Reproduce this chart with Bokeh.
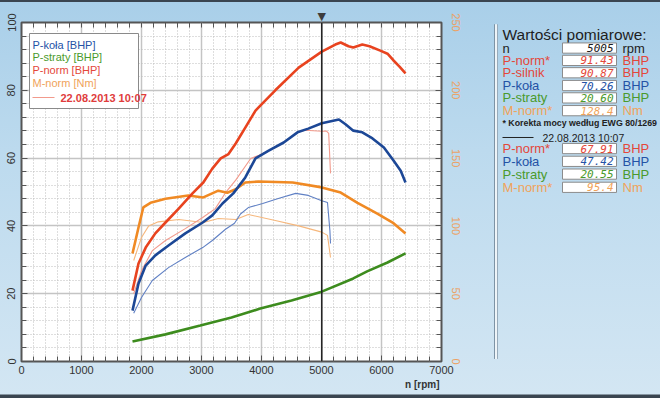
from bokeh.plotting import figure
from bokeh.models import (Range1d, LinearAxis, SingleIntervalTicker, FixedTicker, Span,
                          ColumnDataSource, Grid, Title)
from bokeh.layouts import row
from bokeh.embed import file_html
from bokeh.resources import INLINE
from bokeh.core.properties import value

# ---------------- data ----------------
cursor_rpm = 5005

p_norm_rpm = [1850, 1950, 2070, 2230, 2400, 2620, 2850, 3030, 3180, 3320, 3450, 3570, 3730, 3900,
              3980, 4230, 4620, 5005, 5230, 5320, 5450, 5530, 5680, 5800, 5980, 6100, 6200, 6300, 6400]
p_norm = [20.9, 28.9, 33.6, 37.8, 41.0, 45.1, 49.6, 52.8, 56.9, 59.9, 61.2, 64.3, 69.0, 74.0,
          75.5, 80.0, 86.7, 91.4, 93.5, 94.1, 93.0, 92.6, 93.5, 93.0, 91.7, 90.8, 88.8, 87.0, 85.0]

p_kola_rpm = [1850, 1950, 2070, 2230, 2450, 2730, 3020, 3180, 3350, 3530, 3730, 3900, 4120, 4370,
              4600, 4780, 5005, 5290, 5400, 5530, 5680, 5850, 6040, 6200, 6320, 6400]
p_kola = [15.0, 23.0, 28.3, 31.3, 34.2, 37.8, 41.0, 43.1, 46.6, 49.6, 54.3, 59.9, 62.2, 64.6,
          67.6, 68.7, 70.3, 71.4, 70.0, 68.1, 67.6, 65.8, 63.1, 59.3, 56.3, 52.8]

p_straty_rpm = [1850, 2400, 2980, 3500, 3980, 4500, 5005, 5530, 5760, 6100, 6400]
p_straty = [5.9, 8.0, 10.6, 13.0, 15.6, 18.0, 20.6, 24.5, 26.6, 29.2, 31.9]

m_norm_rpm = [1850, 1950, 2030, 2150, 2400, 2780, 3030, 3280, 3430, 3570, 3730, 3950, 4520, 5005,
              5320, 5600, 5930, 6200, 6400]
m_norm = [79.7, 98.8, 113.6, 117.0, 120.0, 122.4, 121.0, 126.0, 124.5, 127.0, 132.0, 132.7, 132.0,
          128.4, 124.6, 117.0, 109.0, 102.0, 94.4]

# comparison run 22.08.2013 10:07
cmp_p_norm_rpm = [1870, 2000, 2180, 2400, 2730, 3020, 3230, 3400, 3570, 3820, 3950, 4120, 4370,
                  4600, 4730, 5005, 5080, 5120, 5150]
cmp_p_norm = [20.0, 26.8, 32.7, 35.7, 39.2, 42.5, 45.1, 49.8, 53.5, 59.9, 60.8, 62.2, 64.6,
              67.6, 68.2, 67.9, 68.0, 67.3, 55.5]

cmp_p_kola_rpm = [1870, 2000, 2180, 2450, 2730, 3020, 3180, 3400, 3550, 3650, 3780, 4020, 4280,
                  4570, 4780, 5005, 5100, 5140, 5150]
cmp_p_kola = [14.2, 18.9, 23.9, 27.7, 30.7, 33.6, 35.7, 39.0, 40.8, 43.5, 45.4, 46.6, 48.1,
              49.6, 49.0, 47.4, 46.9, 38.6, 34.8]

cmp_m_norm_rpm = [1870, 2000, 2120, 2280, 2620, 3030, 3280, 3570, 3780, 4230, 4620, 5005, 5100, 5150]
cmp_m_norm = [74.5, 91.5, 100.0, 103.0, 104.7, 102.5, 105.5, 104.7, 108.4, 104.0, 100.0, 95.4, 93.0, 76.7]

legend_texts = ["P-koła [BHP]", "P-straty [BHP]", "P-norm [BHP]", "M-norm [Nm]"]
cmp_label = "22.08.2013 10:07"
x_title = "n [rpm]"

panel_title = "Wartości pomiarowe:"
panel1_labels = ["n", "P-norm*", "P-silnik", "P-koła", "P-straty", "M-norm*"]
panel1_values = ["5005", "91.43", "90.87", "70.26", "20.60", "128.4"]
panel1_units = ["rpm", "BHP", "BHP", "BHP", "BHP", "Nm"]
panel_note = "* Korekta  mocy według EWG 80/1269"
panel2_labels = ["P-norm*", "P-koła", "P-straty", "M-norm*"]
panel2_values = ["67.91", "47.42", "20.55", "95.4"]
panel2_units = ["BHP", "BHP", "BHP", "Nm"]

# ---------------- styles ----------------
W, H = 660, 398
RED, RED_T = "#e8431f", "#f29a8c"
BLUE, BLUE_T = "#1c4796", "#6080c4"
ORANGE, ORANGE_T = "#f08a24", "#f6b77c"
GREEN = "#3d8c1e"
L_RED, L_BLUE, L_GREEN, L_ORANGE = "#e4473a", "#2452a6", "#4a9a2c", "#f0a35a"
FONT = value("Liberation Sans")
BG = ("linear-gradient(to bottom, #3a4550 0px, #3a4550 2px, #a9cfe9 2px, #bcdaee 150px, "
      "#d3e6f3 394px, #3a4550 395px, #3a4550 398px)")

# ref-pixel -> data helpers (for placing the legend box)
def px2rpm(x):
    return (x - 21) / 0.06

def py2bhp(y):
    return (361 - y) / 3.39

MAIN_W = 490
p = figure(width=MAIN_W, height=H, x_range=Range1d(0, 7000), y_range=Range1d(0, 100),
           output_backend="svg", toolbar_location=None, x_axis_type=None, y_axis_type=None,
           min_border_left=21, min_border_right=MAIN_W - 21 - 420, min_border_top=22,
           min_border_bottom=H - 22 - 339)
p.extra_y_ranges = {"nm": Range1d(0, 250)}
p.background_fill_color = "white"
p.border_fill_color = None
p.styles = {"background": BG}
p.outline_line_color = "#555555"
p.outline_line_width = 2

xt = SingleIntervalTicker(interval=1000, num_minor_ticks=5)
yt = SingleIntervalTicker(interval=20, num_minor_ticks=5)
nt = SingleIntervalTicker(interval=50, num_minor_ticks=5)

def style_axis(ax, color="#333333"):
    ax.axis_line_color = None
    ax.major_tick_in = 6
    ax.major_tick_out = 0
    ax.minor_tick_in = 5
    ax.minor_tick_out = 0
    ax.major_tick_line_color = "#555555"
    ax.minor_tick_line_color = "#555555"
    ax.major_label_text_font = "Liberation Sans"
    ax.major_label_text_font_size = "11px"
    ax.major_label_text_color = color

xb = LinearAxis(ticker=xt)
style_axis(xb)
xb.major_label_standoff = 4
p.add_layout(xb, "below")

# top axis: inner minor ticks + cursor marker
xa = LinearAxis(ticker=FixedTicker(ticks=[cursor_rpm], minor_ticks=list(range(0, 7001, 200))),
                major_label_overrides={cursor_rpm: "▼"})
style_axis(xa, "#3c3c3c")
xa.major_tick_in = 0
xa.major_label_standoff = 0
xa.major_label_text_font = "DejaVu Sans"
xa.major_label_text_font_size = "11px"
p.add_layout(xa, "above")

yl = LinearAxis(ticker=yt)
style_axis(yl)
yl.major_label_orientation = "vertical"
yl.major_label_standoff = 6
p.add_layout(yl, "left")

yr = LinearAxis(ticker=nt, y_range_name="nm")
style_axis(yr, "#eca265")
yr.major_label_orientation = "vertical"
yr.major_label_standoff = 10
p.add_layout(yr, "right")

p.add_layout(Title(text=x_title, align="right", text_font="Liberation Sans",
                   text_font_size="10px", text_font_style="bold", text_color="#333333",
                   standoff=0, offset=2), "below")

gx = Grid(dimension=0, ticker=xt, grid_line_color="#c4c4c4", grid_line_width=1.5,
          minor_grid_line_color="#bdbdbd", minor_grid_line_dash="1 2")
gy = Grid(dimension=1, ticker=yt, grid_line_color="#c4c4c4", grid_line_width=1.5,
          minor_grid_line_color="#bdbdbd", minor_grid_line_dash="1 2")
p.add_layout(gx)
p.add_layout(gy)

# thin comparison curves
p.line(cmp_m_norm_rpm, cmp_m_norm, y_range_name="nm", line_color=ORANGE_T, line_width=1.1)
p.line(cmp_p_kola_rpm, cmp_p_kola, line_color=BLUE_T, line_width=1.1)
p.line(cmp_p_norm_rpm, cmp_p_norm, line_color=RED_T, line_width=1.1)
# thick current curves
p.line(p_straty_rpm, p_straty, line_color=GREEN, line_width=2.6)
p.line(m_norm_rpm, m_norm, y_range_name="nm", line_color=ORANGE, line_width=2.6)
p.line(p_kola_rpm, p_kola, line_color=BLUE, line_width=2.6)
p.line(p_norm_rpm, p_norm, line_color=RED, line_width=2.6)

p.add_layout(Span(location=cursor_rpm, dimension="height", line_color="#1e1e1e", line_width=1.5))

# legend box
p.quad(left=[px2rpm(29)], right=[px2rpm(138)], top=[py2bhp(33)], bottom=[py2bhp(108)],
       fill_color="white", line_color="#8a8a8a", line_width=1)
leg_src = ColumnDataSource(dict(x=[px2rpm(32)] * 4, y=[py2bhp(v) for v in (44, 56, 69, 82)],
                                t=legend_texts, c=[L_BLUE, L_GREEN, L_RED, L_ORANGE]))
p.text(x="x", y="y", text="t", text_color="c", source=leg_src, text_font=FONT,
       text_font_size="11px", text_baseline="middle")
p.line([px2rpm(32), px2rpm(54)], [py2bhp(97)] * 2, line_color=RED_T, line_width=1.2)
p.text(x=[px2rpm(60)], y=[py2bhp(97)], text=[cmp_label], text_color="#e03c3c",
       text_font=FONT, text_font_size="11px", text_font_style="bold", text_baseline="middle")

# ---------------- right panel ----------------
q = figure(width=W - MAIN_W, height=H, x_range=Range1d(MAIN_W, W), y_range=Range1d(H, 0),
           output_backend="svg", toolbar_location=None, x_axis_type=None, y_axis_type=None,
           min_border=0)
q.background_fill_color = None
q.border_fill_color = None
q.outline_line_color = None
q.styles = {"background": BG}

q.segment(x0=[494, 495.5, 497], y0=[2, 2, 2], x1=[494, 495.5, 497], y1=[395, 395, 395],
          line_color=["#7d93a5", "#eef4f8", "#97abbb"], line_width=[1, 2, 1])

q.text(x=[502], y=[14], text=[panel_title], text_font=FONT, text_font_size="15.5px",
       text_color="#1e1e1e", text_baseline="middle")

col_map = {"n": "#1e1e1e", "P-norm*": L_RED, "P-silnik": L_RED, "P-koła": L_BLUE,
           "P-straty": L_GREEN, "M-norm*": L_ORANGE}

def block(labels, values, units, ys):
    cols = [col_map[l] for l in labels]
    vcols = ["#202020" if l == "n" else c for l, c in zip(labels, cols)]
    q.quad(left=562, right=616, top=[y - 6 for y in ys], bottom=[y + 6 for y in ys],
           fill_color="white", line_color="#8c8c8c", line_width=1)
    q.text(x=502, y=ys, text=labels, text_color=cols, text_font=FONT, text_font_size="13px",
           text_baseline="middle")
    q.text(x=613, y=ys, text=values, text_color=vcols, text_font=value("DejaVu Sans Mono"),
           text_font_style="italic", text_font_size="11px", text_baseline="middle",
           text_align="right")
    q.text(x=622, y=ys, text=units, text_color=cols, text_font=FONT, text_font_size="13px",
           text_baseline="middle")

block(panel1_labels, panel1_values, panel1_units, [30, 44.5, 59, 74, 88.5, 103.5])
q.text(x=[502], y=[118], text=[panel_note], text_font=FONT, text_font_size="8.8px",
       text_font_style="bold", text_color="#222222", text_baseline="middle")
q.line([502, 533], [135, 135], line_color="#222222", line_width=1)
q.text(x=[542], y=[135.5], text=[cmp_label], text_font=FONT, text_font_size="10.5px",
       text_color="#222222", text_baseline="middle")
block(panel2_labels, panel2_values, panel2_units, [148, 163, 178, 193.5])

layout = row(p, q)
open("out.html", "w").write(file_html(layout, INLINE))
